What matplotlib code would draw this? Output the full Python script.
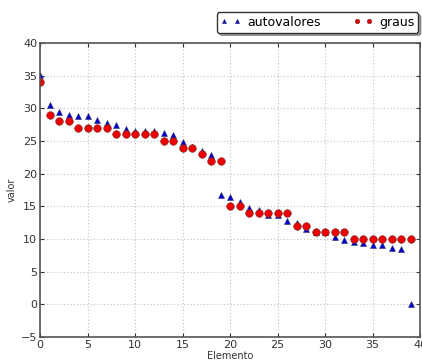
import numpy as np
import matplotlib
matplotlib.use("Agg")
import matplotlib.pyplot as plt

elemento = np.arange(40)

autovalores = [35.1, 30.5, 29.5, 29.0, 28.9, 28.8, 28.2, 27.8, 27.5, 26.9,
               26.6, 26.6, 26.6, 26.2, 25.9, 24.9, 24.1, 23.5, 22.9, 16.7,
               16.4, 15.6, 14.8, 14.4, 13.7, 13.7, 12.8, 12.4, 11.6, 11.0,
               11.0, 10.3, 9.8, 9.6, 9.4, 9.1, 9.1, 8.6, 8.4, 0.0]

graus = [34, 29, 28, 28, 27, 27, 27, 27, 26, 26,
         26, 26, 26, 25, 25, 24, 24, 23, 22, 22,
         15, 15, 14, 14, 14, 14, 14, 12, 12, 11,
         11, 11, 11, 10, 10, 10, 10, 10, 10, 10]

fig = plt.figure(figsize=(4.22, 3.63), dpi=100)
ax = fig.add_axes([40 / 422, 26 / 363, 380 / 422, 294 / 363])

ax.plot(elemento, autovalores, '^', color='#0000cc', markersize=5,
        markeredgecolor='#333366', markeredgewidth=0.4, label='autovalores')
ax.plot(elemento, graus, 'o', color='#ee0000', markersize=5.5,
        markeredgecolor='#663333', markeredgewidth=0.4, label='graus')

ax.set_xlim(0, 40)
ax.set_ylim(-5, 40)
ax.set_xticks(range(0, 41, 5))
ax.set_yticks(range(-5, 41, 5))
ax.grid(True, linestyle=(0, (1, 2)), color='#c0c0c0', linewidth=0.8)
ax.tick_params(direction='in', length=3, labelsize=8, colors='#333333',
               top=True, right=True, pad=2)
for s in ax.spines.values():
    s.set_color('#555555')
    s.set_linewidth(1.2)

ax.set_xlabel('Elemento', fontsize=7, color='#333333', labelpad=1)
ax.set_ylabel('valor', fontsize=7, color='#333333', labelpad=3)

leg = ax.legend(loc='upper right', bbox_to_anchor=(418 / 422, 1 - 12 / 363),
                bbox_transform=fig.transFigure, ncol=2, numpoints=2,
                markerscale=0.6, fontsize=9, frameon=True, fancybox=True,
                shadow=True, borderaxespad=0, handletextpad=0.5,
                handlelength=1.6, columnspacing=2.6, borderpad=0.3)
leg.get_frame().set_edgecolor('#333333')
leg.get_frame().set_alpha(1)

fig.savefig('out.png', dpi=100)
